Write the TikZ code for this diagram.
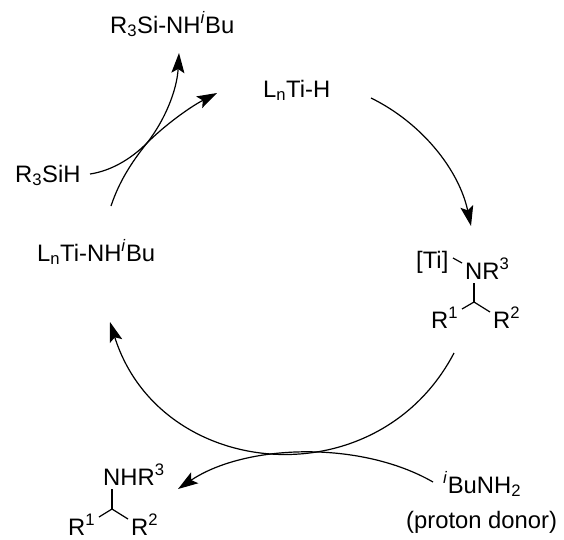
\documentclass[tikz,border=0pt]{standalone}
\usepackage{fontspec}
\setmainfont{Liberation Sans}
\usepackage{tikz}
\usetikzlibrary{arrows.meta}

\begin{document}
\begin{tikzpicture}[
            x=1pt, y=-1pt,
            font=\fontsize{23.8}{28}\selectfont,
            chem/.style={anchor=base west, inner sep=0pt},
            ar/.style={-{Stealth[length=20pt, width=13pt, inset=4pt]}, line width=1.2pt},
            bond/.style={line width=1.2pt}
        ]
            \useasboundingbox (0,0) rectangle (564,539);

% Species round the cycle
            \node[chem] (silyl)  at (110,33)  {R\textsubscript{3}Si-NH\textsuperscript{\textit{i}}Bu};
            \node[chem] (hydride) at (263,97) {L\textsubscript{n}Ti-H};
            \node[chem] (silane) at (15,182)  {R\textsubscript{3}SiH};
            \node[chem] (amido)  at (37,261)  {L\textsubscript{n}Ti-NH\textsuperscript{\textit{i}}Bu};
            \node[chem] (ti)     at (416,268) {[Ti]};
            \node[chem] (nr)     at (465,279) {NR\textsuperscript{3}};
            \node[chem] (ra)     at (431,328) {R\textsuperscript{1}};
            \node[chem] (rb)     at (493,328) {R\textsuperscript{2}};
            \node[chem] (amine)  at (103,485) {NHR\textsuperscript{3}};
            \node[chem] (rc)     at (68,535)  {R\textsuperscript{1}};
            \node[chem] (rd)     at (131,535) {R\textsuperscript{2}};
            \node[chem] (donor)  at (443,493) {\textsuperscript{\textit{i}}BuNH\textsubscript{2}};
            \node[chem] (note)   at (406,528) {(proton donor)};

% Ends of the curved arrows
            \coordinate (a1) at (111,206);
            \coordinate (a2) at (179,53);
            \coordinate (b1) at (90,174);
            \coordinate (b2) at (217,93);
            \coordinate (x)  at (147,143);
            \coordinate (c1) at (371,98);
            \coordinate (c2) at (471,226);
            \coordinate (d1) at (454,353);
            \coordinate (d2) at (110,322);
            \coordinate (e1) at (433,482);
            \coordinate (e2) at (178,489);

            \draw[ar] (a1) .. controls (119,182) and (131,163) .. (x) .. controls (165,120) and (177,90) .. (a2);
            \draw[ar] (b1) .. controls (110,171) and (130,160) .. (x) .. controls (165,125) and (190,107) .. (b2);
            \draw[ar] (c1) .. controls (422,123) and (459,170) .. (c2);
            \draw[ar] (d1) .. controls (377,500) and (160,481) .. (d2);
            \draw[ar] (e1) .. controls (360,440) and (245,444) .. (e2);

% Bonds of the two amine fragments
            \coordinate (tib) at (453,258);
            \coordinate (nrb) at (462,263);
            \coordinate (nt)  at (474,283);
            \coordinate (ch)  at (474,302);
            \coordinate (cl)  at (462,309);
            \coordinate (cr)  at (490,312);
            \draw[bond] (tib) -- (nrb);
            \draw[bond] (cl) -- (ch) -- (cr);
            \draw[bond] (nt) -- (ch);

            \coordinate (nu) at (112,489);
            \coordinate (cu) at (112,509);
            \coordinate (ul) at (99,517);
            \coordinate (ur) at (128,519);
            \draw[bond] (ul) -- (cu) -- (ur);
            \draw[bond] (nu) -- (cu);
        \end{tikzpicture}
\end{document}
